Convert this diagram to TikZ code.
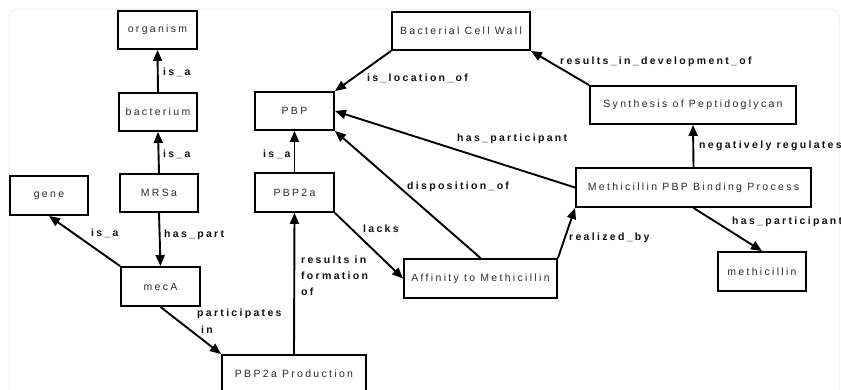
\documentclass[tikz,border=0pt]{standalone}
\usepackage{fontspec}
\usetikzlibrary{arrows.meta}
\newfontfamily\boxfont[LetterSpace=22]{Liberation Sans}
\newfontfamily\lblfont[LetterSpace=22]{Liberation Sans Bold}
\definecolor{boxtext}{HTML}{2A2A2A}
\definecolor{lbltext}{HTML}{111111}
\definecolor{frame}{HTML}{FBEAE2}
\begin{document}
\begin{tikzpicture}[x=1pt,y=-1pt,
  concept/.style={draw=black, line width=1.9pt, fill=white, inner sep=0pt,
    text=boxtext, font=\boxfont\fontsize{10.5}{12}\selectfont, minimum height=38pt},
  rel/.style={-{Triangle[length=11pt,width=9pt]}, line width=1.9pt, black},
  lbl/.style={anchor=west, inner sep=0pt, text=lbltext, font=\lblfont\fontsize{10.5}{12}\selectfont},
]
\useasboundingbox (0,0) rectangle (841,389);
\draw[frame, line width=1pt, rounded corners=9pt] (9,9) rectangle (839,400);

% concept boxes
\node[concept, minimum width=79pt] (organism) at (157.5,30) {organism};
\node[concept, minimum width=78pt] (bacterium) at (158,112) {bacterium};
\node[concept, minimum width=78pt] (mrsa) at (159,193) {MRSa};
\node[concept, minimum width=78pt, minimum height=39pt] (gene) at (49,195.5) {gene};
\node[concept, minimum width=79pt] (pbp) at (294.5,111) {PBP};
\node[concept, minimum width=79pt, minimum height=39pt] (pbp2a) at (294.5,192.5) {PBP2a};
\node[concept, minimum width=79pt, minimum height=39pt] (meca) at (160.5,286.5) {mecA};
\node[concept, minimum width=144pt] (prod) at (294,374) {PBP2a Production};
\node[concept, minimum width=153pt, minimum height=39pt] (affinity) at (480.5,278.5) {Affinity to Methicillin};
\node[concept, minimum width=138pt] (wall) at (461,31) {Bacterial Cell Wall};
\node[concept, minimum width=206pt] (synth) at (693,105) {Synthesis of Peptidoglycan};
\node[concept, minimum width=235pt, minimum height=39pt] (binding) at (693.5,187.5) {Methicillin PBP Binding Process};
\node[concept, minimum width=88pt, minimum height=39pt] (methicillin) at (762,271.5) {methicillin};

% connectors
\draw[rel] (bacterium.north) -- (organism.south);
\draw[rel] (mrsa.north) -- (bacterium.south);
\draw[rel] (mrsa.south) -- (meca.north);
\draw[rel] (meca.north west) -- (gene.south);
\draw[rel] (meca.south) -- (prod.north west);
\draw[rel] (prod.north) -- (pbp2a.south);
\draw[rel] (pbp2a.north) -- (pbp.south);
\draw[rel] (pbp2a.south east) -- (affinity.west);
\draw[rel] (affinity.north) -- (pbp.south east);
\draw[rel] (affinity.north east) -- (binding.south west);
\draw[rel] (binding.west) -- (pbp.east);
\draw[rel] (binding.north) -- (synth.south);
\draw[rel] (binding.south) -- (methicillin.north);
\draw[rel] (synth.north west) -- (wall.south east);
\draw[rel] (wall.south west) -- (pbp.north east);

% connector labels
\node[lbl] (l1) at (163,72) {is\_a};
\node[lbl] (l2) at (163,154) {is\_a};
\node[lbl] (l3) at (263,154) {is\_a};
\node[lbl] (l4) at (367,78) {is\_location\_of};
\node[lbl] (l5) at (560,62) {results\_in\_development\_of};
\node[lbl] (l6) at (457,139) {has\_participant};
\node[lbl] (l7) at (699,146) {negatively regulates};
\node[lbl] (l8) at (407,187) {disposition\_of};
\node[lbl] (l9) at (164,235) {has\_part};
\node[lbl] (l10) at (91,233) {is\_a};
\node[lbl] (l11) at (363,229) {lacks};
\node[lbl] (l12) at (301,260) {results in};
\node[lbl] (l13) at (301,276) {formation};
\node[lbl] (l14) at (301,292) {of};
\node[lbl] (l15) at (197,314) {participates};
\node[lbl] (l16) at (201,330) {in};
\node[lbl] (l17) at (569,238) {realized\_by};
\node[lbl] (l18) at (732,222) {has\_participant};
\end{tikzpicture}
\end{document}
